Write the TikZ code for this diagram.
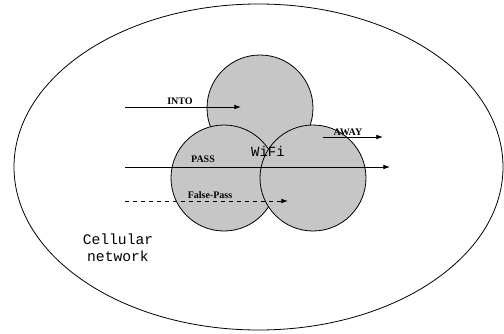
\documentclass[tikz,border=0pt]{standalone}
\usepackage{fontspec}
\setmainfont{Liberation Serif}
\setmonofont{Liberation Mono}
\usetikzlibrary{shapes.geometric,arrows.meta}
\definecolor{cellgray}{RGB}{198,198,198}
\begin{document}
\begin{tikzpicture}[x=0.75pt,y=-0.75pt]

      \tikzset{cell/.style={draw, circle, line width=0.6pt, fill=cellgray, minimum size=79.5pt, inner sep=0pt},
               move/.style={line width=0.6pt, -{Latex[length=5pt,width=3.5pt]}},
               tag/.style={font=\fontsize{7.5}{8}\selectfont\bfseries, inner sep=1pt}}
      \useasboundingbox (0,0) rectangle (504,333);
%% Cellular area and WiFi cells
      	\node[draw, ellipse, line width=0.6pt, minimum width=366.75pt, minimum height=244.5pt, inner sep=0pt] (net) at (258.5,167) {};
      	\node[cell] (c1) at (260,108) {};
      	\node[cell] (c2) at (224,178) {};
      	\node[cell] (c3) at (313,178) {};
      	\node[font=\ttfamily\fontsize{10.5}{12}\selectfont] (wifi) at (268,151) {WiFi};
      	\node[font=\ttfamily\fontsize{11}{13}\selectfont, align=center] (cellular) at (118,248) {Cellular\\network};
%Arrow ends
      	\coordinate (into0) at (125,107);  \coordinate (into1) at (241,107);
      	\coordinate (away0) at (323,137);  \coordinate (away1) at (383,137);
      	\coordinate (pass0) at (125,167);  \coordinate (pass1) at (390,167);
      	\coordinate (fp0) at (125,201);    \coordinate (fp1) at (288,201);
%Movements
		\draw[move] (into0) -- (into1);
		\draw[move] (away0) -- (away1);
		\draw[move] (pass0) -- (pass1);
		\draw[move, dashed] (fp0) -- (fp1);
		\node[tag] (lint) at (180,101) {INTO};
		\node[tag] (laway) at (348,132) {AWAY};
		\node[tag] (lpass) at (203,159) {PASS};
		\node[tag] (lfp) at (210,195) {False-Pass};

	\end{tikzpicture}
\end{document}
